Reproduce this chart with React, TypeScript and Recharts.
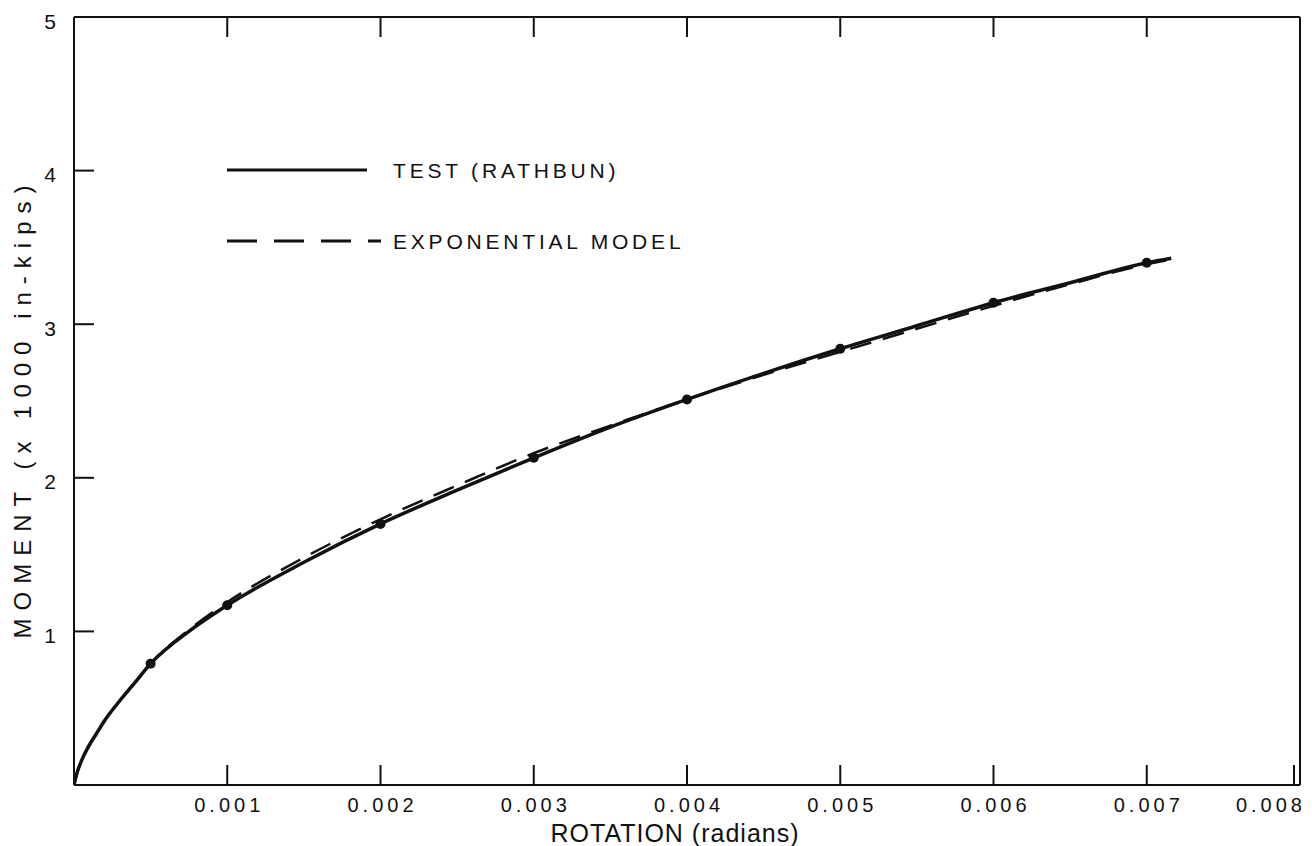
import { ComposedChart, Line, XAxis, YAxis } from "recharts";

// rotation (radians) where the curves were read
const rotation = [
  0, 0.00002, 0.00005, 0.0001, 0.00015, 0.0002, 0.0003, 0.0004, 0.0005, 0.00075,
  0.001, 0.0015, 0.002, 0.0025, 0.003, 0.0035, 0.004, 0.0045, 0.005, 0.0055,
  0.006, 0.0065, 0.007, 0.00716,
];
// moment (x 1000 in-kips)
const testMoment = [
  0, 0.08, 0.16, 0.26, 0.34, 0.42, 0.55, 0.67, 0.79, 1.0,
  1.17, 1.45, 1.7, 1.92, 2.13, 2.33, 2.51, 2.68, 2.84, 2.99,
  3.14, 3.27, 3.4, 3.43,
];
const modelMoment = [
  0, 0.08, 0.16, 0.26, 0.34, 0.42, 0.55, 0.67, 0.79, 1.01,
  1.19, 1.48, 1.73, 1.95, 2.16, 2.34, 2.51, 2.67, 2.82, 2.97,
  3.12, 3.26, 3.39, 3.42,
];
// rotations where the test points are marked with a dot
const markerRotation = [0.0005, 0.001, 0.002, 0.003, 0.004, 0.005, 0.006, 0.007];

const xTicks = [0.001, 0.002, 0.003, 0.004, 0.005, 0.006, 0.007, 0.008];
const yTicks = [1, 2, 3, 4, 5];
const topTicks = [0.001, 0.002, 0.003, 0.004, 0.005, 0.006, 0.007];
const rightTicks = [1, 2, 3, 4];

const legendItems = [
  { label: "TEST (RATHBUN)", dash: undefined as string | undefined, len: 140 },
  { label: "EXPONENTIAL MODEL", dash: "30 17", len: 154 },
];

const data = rotation.map((x, i) => ({ x, test: testMoment[i], model: modelMoment[i] }));
const markers = new Set(markerRotation);

const INK = "#111";
const FONT = "'Liberation Sans', Arial, sans-serif";
const PL = 74;
const PT = 17;
const PR = 1300;
const PB = 785;
const TL = 20;

function BottomTick({ x, payload }: any) {
  const last = payload.value >= 0.008;
  return (
    <g>
      <line x1={x} x2={x} y1={PB} y2={PB - TL} stroke={INK} strokeWidth={2} />
      <text
        x={last ? x + 12 : x + 2}
        y={805}
        dy="0.36em"
        textAnchor={last ? "end" : "middle"}
        fontFamily={FONT}
        fontSize={20}
        letterSpacing={4}
        fill={INK}
      >
        {payload.value.toFixed(3)}
      </text>
    </g>
  );
}

function LeftTick({ y, payload }: any) {
  return (
    <g>
      <line x1={PL} x2={PL + TL} y1={y} y2={y} stroke={INK} strokeWidth={2} />
      <text x={50} y={y + 4} dy="0.36em" textAnchor="middle" fontFamily={FONT} fontSize={21} fill={INK}>
        {payload.value}
      </text>
    </g>
  );
}

function TopTick({ x }: any) {
  return <line x1={x} x2={x} y1={PT} y2={PT + TL} stroke={INK} strokeWidth={2} />;
}

function RightTick({ y }: any) {
  return <line x1={PR} x2={PR - TL} y1={y} y2={y} stroke={INK} strokeWidth={2} />;
}

function Dot(props: any) {
  const { cx, cy, payload, index } = props;
  if (!markers.has(payload.x)) return <g key={index} />;
  return <circle key={index} cx={cx} cy={cy} r={5} fill={INK} />;
}

function LegendBox() {
  return (
    <svg
      width={520}
      height={110}
      style={{ position: "absolute", left: 227, top: 155, overflow: "visible" }}
    >
      {legendItems.map((r, i) => {
        const y = 15 + i * 71;
        return (
          <g key={r.label}>
            <line x1={0} x2={r.len} y1={y} y2={y} stroke={INK} strokeWidth={3} strokeDasharray={r.dash} />
            <text x={166} y={y} dy="0.36em" fontFamily={FONT} fontSize={21} letterSpacing={3.8} fill={INK}>
              {r.label}
            </text>
          </g>
        );
      })}
    </svg>
  );
}

export default function App() {
  return (
    <div style={{ position: "absolute", left: 0, top: 0, width: 1312, height: 846, background: "#fff" }}>
      <ComposedChart width={1312} height={846} data={data} margin={{ top: PT - 1, right: 11, bottom: 0, left: 0 }}>
        <XAxis
          xAxisId="bottom"
          dataKey="x"
          type="number"
          domain={[0, 0.008]}
          ticks={xTicks}
          height={61}
          axisLine={{ stroke: INK, strokeWidth: 2 }}
          tickLine={false}
          tick={<BottomTick />}
          allowDataOverflow
          label={{
            content: () => (
              <text x={675} y={833} dy="0.36em" textAnchor="middle" fontFamily={FONT} fontSize={25} letterSpacing={1} fill={INK}>
                ROTATION (radians)
              </text>
            ),
          }}
        />
        <XAxis
          xAxisId="top"
          dataKey="x"
          type="number"
          orientation="top"
          domain={[0, 0.008]}
          ticks={topTicks}
          height={1}
          axisLine={{ stroke: INK, strokeWidth: 2 }}
          tickLine={false}
          tick={<TopTick />}
          allowDataOverflow
        />
        <YAxis
          yAxisId="left"
          type="number"
          domain={[0, 5]}
          ticks={yTicks}
          width={PL}
          axisLine={{ stroke: INK, strokeWidth: 2 }}
          tickLine={false}
          tick={<LeftTick />}
          label={{
            content: () => (
              <text
                transform="translate(22,408) rotate(-90)"
                dy="0.36em"
                textAnchor="middle"
                fontFamily={FONT}
                fontSize={24}
                letterSpacing={8}
                fill={INK}
              >
                MOMENT (x 1000 in-kips)
              </text>
            ),
          }}
        />
        <YAxis
          yAxisId="right"
          type="number"
          orientation="right"
          domain={[0, 5]}
          ticks={rightTicks}
          width={1}
          axisLine={{ stroke: INK, strokeWidth: 2 }}
          tickLine={false}
          tick={<RightTick />}
        />
        <Line
          xAxisId="bottom"
          yAxisId="left"
          dataKey="model"
          type="monotone"
          stroke={INK}
          strokeWidth={2.5}
          strokeDasharray="22 12"
          dot={false}
          isAnimationActive={false}
        />
        <Line
          xAxisId="bottom"
          yAxisId="left"
          dataKey="test"
          type="monotone"
          stroke={INK}
          strokeWidth={3.5}
          dot={<Dot />}
          isAnimationActive={false}
        />
      </ComposedChart>
      <LegendBox />
    </div>
  );
}
